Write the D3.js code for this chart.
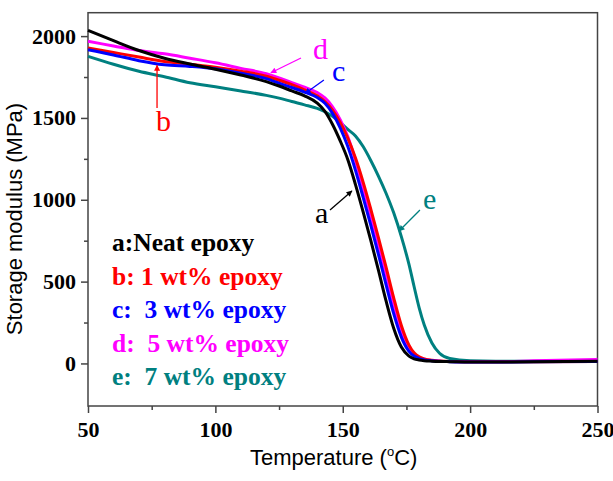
<!DOCTYPE html>
<html>
<head>
<meta charset="utf-8">
<script src="https://cdn.jsdelivr.net/npm/d3@7"></script>
<style>
  body { margin: 0; background: #fff; }
  svg { display: block; }
  .tick text { font-family: "Times New Roman", "Liberation Serif", serif; font-weight: bold; font-size: 22px; fill: #000; }
</style>
</head>
<body>
<svg id="chart" width="613" height="481"></svg>
<script>
// Sample temperatures (deg C), shared by every curve
const temps = [50,60,70,80,90,100,110,120,125,130,135,140,143,146,149,152,155,158,161,164,
               167,170,173,176,178,180,182,185,188,192,200,210,225,250];

// Storage modulus (MPa), one array per sample
const neatEpoxy = [2035,1972,1912,1865,1830,1798,1762,1722,1695,1665,1635,1590,1540,1460,1360,1245,1093,926,752,570,
                   382,215,100,45,28,21,17,14,12,11,9,9,10,14];
const wt1Epoxy  = [1928,1900,1872,1845,1828,1810,1786,1755,1730,1703,1672,1635,1600,1548,1472,1375,1255,1108,943,769,
                   588,401,232,112,65,40,28,19,15,12,10,10,11,12];
const wt3Epoxy  = [1917,1885,1850,1825,1815,1800,1773,1740,1712,1686,1658,1625,1590,1528,1440,1325,1180,1015,845,667,
                   482,304,161,74,45,30,22,16,13,11,9,9,10,12];
const wt5Epoxy  = [1968,1940,1912,1892,1865,1837,1803,1770,1745,1715,1688,1655,1622,1568,1490,1385,1240,1071,903,728,
                   545,360,200,93,55,36,26,18,14,12,11,11,16,25];
const wt7Epoxy  = [1876,1828,1785,1752,1715,1690,1665,1638,1621,1600,1580,1558,1538,1510,1472,1430,1390,1325,1240,1145,
                   1040,920,775,605,470,340,235,125,62,30,16,14,14,15];

const seriesNames  = ["a:Neat epoxy", "b: 1 wt% epoxy", "c:  3 wt% epoxy", "d:  5 wt% epoxy", "e:  7 wt% epoxy"];
const seriesColors = ["#000000", "#ff0000", "#0000ff", "#ff00ff", "#008080"];
const seriesValues = [neatEpoxy, wt1Epoxy, wt3Epoxy, wt5Epoxy, wt7Epoxy];

// Letter labels with arrows, in data units: text spot, arrow start, arrow tip
const labelLetters = ["a", "b", "c", "d", "e"];
const labelText  = [[139.1, 858], [76.7, 1420], [145.8, 1726], [138.3, 1860], [181.5, 944]];
const arrowStart = [[145, 938], [77.1, 1561], [142.6, 1732], [133.6, 1866], [180.3, 938]];
const arrowTip   = [[153.6, 1054], [77.1, 1822], [135.2, 1649], [121.8, 1776], [172.1, 809]];

const xTicks = [50, 100, 150, 200, 250];
const xMinor = [75, 125, 175, 225];
const yTicks = [0, 500, 1000, 1500, 2000];
const yMinor = [250, 750, 1250, 1750];

const svg = d3.select("#chart");
const plot = {left: 88, right: 597.5, top: 12.7, bottom: 406};

const x = d3.scaleLinear().domain([50, 250]).range([plot.left, plot.right]);
const y = d3.scaleLinear().domain([-260, 2143]).range([plot.bottom, plot.top]);

// Frame round the plot
svg.append("rect")
  .attr("x", plot.left).attr("y", plot.top)
  .attr("width", plot.right - plot.left).attr("height", plot.bottom - plot.top)
  .attr("fill", "none").attr("stroke", "#444").attr("stroke-width", 1.5);

// Axes: major ticks with labels, minor ticks without
const styleAxis = g => {
  g.select(".domain").remove();
  g.selectAll(".tick line").attr("stroke", "#444").attr("stroke-width", 1.5);
};

svg.append("g")
  .attr("transform", `translate(0,${plot.bottom})`)
  .call(d3.axisBottom(x).tickValues(xTicks).tickSize(7).tickPadding(8).tickFormat(d3.format("d")))
  .call(styleAxis);
svg.append("g")
  .attr("transform", `translate(0,${plot.bottom})`)
  .call(d3.axisBottom(x).tickValues(xMinor).tickSize(4).tickFormat(""))
  .call(styleAxis);
svg.append("g")
  .attr("transform", `translate(${plot.left},0)`)
  .call(d3.axisLeft(y).tickValues(yTicks).tickSize(7).tickPadding(5).tickFormat(d3.format("d")))
  .call(styleAxis);
svg.append("g")
  .attr("transform", `translate(${plot.left},0)`)
  .call(d3.axisLeft(y).tickValues(yMinor).tickSize(4).tickFormat(""))
  .call(styleAxis);

// Axis titles
const xTitle = svg.append("text")
  .attr("x", 250).attr("y", 465)
  .attr("font-family", "Arial, 'Liberation Sans', sans-serif").attr("font-size", 22);
xTitle.append("tspan").text("Temperature (");
xTitle.append("tspan").attr("font-size", 13).attr("dy", -9).text("o");
xTitle.append("tspan").attr("dy", 9).text("C)");

svg.append("text")
  .attr("transform", "translate(22,219) rotate(-90)")
  .attr("text-anchor", "middle")
  .attr("font-family", "Arial, 'Liberation Sans', sans-serif").attr("font-size", 22)
  .text("Storage modulus (MPa)");

// Curves, drawn so that the black one sits over the coloured ones
const line = d3.line()
  .x(d => x(d[0]))
  .y(d => y(d[1]))
  .curve(d3.curveMonotoneX);

const drawOrder = [4, 3, 1, 2, 0];
svg.append("g")
  .selectAll("path")
  .data(drawOrder)
  .join("path")
  .attr("d", i => line(temps.map((t, k) => [t, seriesValues[i][k]])))
  .attr("fill", "none")
  .attr("stroke", i => seriesColors[i])
  .attr("stroke-width", 3)
  .attr("stroke-linejoin", "round");

// Arrow markers, one per colour
const defs = svg.append("defs");
seriesColors.forEach((c, i) => {
  defs.append("marker")
    .attr("id", "arrow" + i)
    .attr("viewBox", "0 0 10 10")
    .attr("refX", 9).attr("refY", 5)
    .attr("markerWidth", 7).attr("markerHeight", 6)
    .attr("markerUnits", "userSpaceOnUse")
    .attr("orient", "auto")
    .append("path").attr("d", "M0,0L10,5L0,10z").attr("fill", c);
});

// Letter labels with their arrows
const notes = svg.append("g");
labelLetters.forEach((l, i) => {
  notes.append("line")
    .attr("x1", x(arrowStart[i][0])).attr("y1", y(arrowStart[i][1]))
    .attr("x2", x(arrowTip[i][0])).attr("y2", y(arrowTip[i][1]))
    .attr("stroke", seriesColors[i]).attr("stroke-width", 1.3)
    .attr("marker-end", `url(#arrow${i})`);
  notes.append("text")
    .attr("x", x(labelText[i][0])).attr("y", y(labelText[i][1]))
    .attr("font-family", "'Times New Roman', 'Liberation Serif', serif")
    .attr("font-size", 30)
    .attr("fill", seriesColors[i])
    .text(l);
});

// Legend text
svg.append("g")
  .selectAll("text")
  .data(seriesNames)
  .join("text")
  .attr("x", 112)
  .attr("y", (d, i) => 251 + i * 33.5)
  .attr("xml:space", "preserve")
  .style("white-space", "pre")
  .attr("font-family", "'Times New Roman', 'Liberation Serif', serif")
  .attr("font-weight", "bold")
  .attr("font-size", 25.5)
  .attr("fill", (d, i) => seriesColors[i])
  .text(d => d);
</script>
</body>
</html>
